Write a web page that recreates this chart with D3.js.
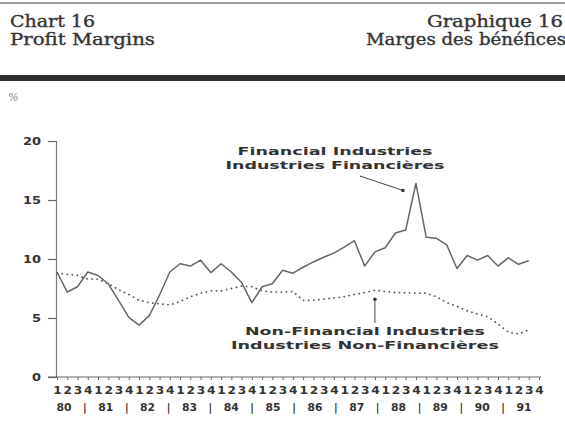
<!DOCTYPE html>
<html>
<head>
<meta charset="utf-8">
<script src="https://cdn.jsdelivr.net/npm/d3@7"></script>
<style>
  body { margin: 0; background: #fff; }
  svg { display: block; }
  .head { font-family: "DejaVu Serif", serif; fill: #333; stroke: #333; stroke-width: 0.35px; font-size: 16px; }
  .lbl { font-family: "DejaVu Sans", sans-serif; font-weight: bold; fill: #333; }
</style>
</head>
<body>
<div id="chart"></div>
<script>
// quarters 1980Q1 .. 1991Q4
var years = ["80", "81", "82", "83", "84", "85", "86", "87", "88", "89", "90", "91"];
var quarterLabels = ["1", "2", "3", "4"];

// Financial industries, % (last quarter not published)
var financial = [8.9, 7.2, 7.65, 8.9, 8.6, 7.9, 6.5, 5.05,
                 4.4, 5.2, 6.95, 8.9, 9.6, 9.4, 9.9, 8.85,
                 9.6, 8.9, 8.0, 6.3, 7.65, 7.9, 9.05, 8.8,
                 9.3, 9.75, 10.15, 10.5, 11.0, 11.55, 9.4, 10.6,
                 10.95, 12.2, 12.45, 16.4, 11.85, 11.75, 11.2, 9.2,
                 10.3, 9.9, 10.3, 9.4, 10.1, 9.55, 9.85, null];

// Non-financial industries, %
var nonFinancial = [8.8, 8.7, 8.6, 8.3, 8.3, 7.9, 7.4, 7.0,
                    6.5, 6.3, 6.2, 6.1, 6.4, 6.8, 7.1, 7.3,
                    7.3, 7.5, 7.7, 7.65, 7.3, 7.2, 7.2, 7.25,
                    6.5, 6.5, 6.6, 6.7, 6.8, 7.0, 7.15, 7.35,
                    7.25, 7.15, 7.15, 7.1, 7.1, 6.8, 6.3, 6.0,
                    5.6, 5.35, 5.1, 4.5, 3.8, 3.65, 4.0, null];

var yTicks = [0, 5, 10, 15, 20];

var w = 565, h = 428;
var svg = d3.select("#chart")
    .append("svg")
    .attr("width", w)
    .attr("height", h);

// header rules
svg.append("rect")
    .attr("x", 0).attr("y", 2)
    .attr("width", w).attr("height", 2)
    .attr("fill", "#9a9a9a");
svg.append("rect")
    .attr("x", 0).attr("y", 75)
    .attr("width", w).attr("height", 6)
    .attr("fill", "#2e2e2e");

// titles (widths forced to match the original typeface)
function head(t, xx, yy, len, anchor) {
  svg.append("text")
      .attr("class", "head")
      .attr("x", xx).attr("y", yy)
      .attr("textLength", len)
      .attr("lengthAdjust", "spacingAndGlyphs")
      .style("text-anchor", anchor)
      .text(t);
}
head("Chart 16", 10, 27, 85, "start");
head("Profit Margins", 10, 45, 145, "start");
head("Graphique 16", 563, 27, 136, "end");
head("Marges des bénéfices", 566, 45, 200, "end");

svg.append("text")
    .attr("x", 8).attr("y", 101)
    .style("font-family", "DejaVu Serif, serif")
    .style("font-style", "italic")
    .style("font-size", "11px")
    .style("fill", "#888")
    .text("%");

var n = financial.length;
var x = d3.scaleLinear().domain([0, n - 1]).range([57, 539]);
var y = d3.scaleLinear().domain([0, 20]).range([377, 141]);

// y axis
var yAxis = d3.axisLeft(y)
    .tickValues(yTicks)
    .tickSize(8)
    .tickPadding(7)
    .tickFormat(d3.format("d"));

var gy = svg.append("g")
    .attr("transform", "translate(56,0)")
    .call(yAxis);
gy.select(".domain").attr("stroke", "#777").attr("stroke-width", 1.2);
gy.selectAll(".tick line").attr("stroke", "#666").attr("stroke-width", 1.2);
gy.selectAll(".tick text")
    .attr("class", "lbl")
    .attr("textLength", function (d) { return String(d).length * 9; })
    .attr("lengthAdjust", "spacingAndGlyphs")
    .style("font-size", "10px");

// x axis
var idx = d3.range(n);
var xAxis = d3.axisBottom(x)
    .tickValues(idx)
    .tickSize(3)
    .tickSizeOuter(0)
    .tickFormat(function (d) { return quarterLabels[d % 4]; });

var gx = svg.append("g")
    .attr("transform", "translate(0,377)")
    .call(xAxis);
gx.select(".domain").attr("stroke", "#666").attr("stroke-width", 1.2)
    .attr("d", "M48,0H541");
gx.selectAll(".tick line").attr("stroke", "#666");
gx.selectAll(".tick text")
    .attr("class", "lbl")
    .attr("y", 10)
    .attr("textLength", 8.5)
    .attr("lengthAdjust", "spacingAndGlyphs")
    .style("font-size", "10px");

// year row
var yx = d3.scaleLinear().domain([0, years.length - 1]).range([64, 524]);
var yearRow = svg.append("g").attr("class", "lbl").style("font-size", "10px");
yearRow.selectAll(".yr")
    .data(years)
    .enter().append("text")
    .attr("x", function (d, i) { return yx(i); })
    .attr("y", 411)
    .attr("textLength", 15)
    .attr("lengthAdjust", "spacingAndGlyphs")
    .style("text-anchor", "middle")
    .text(function (d) { return d; });
yearRow.selectAll(".sep")
    .data(years.slice(1))
    .enter().append("text")
    .attr("x", function (d, i) { return (yx(i) + yx(i + 1)) / 2; })
    .attr("y", 411)
    .style("text-anchor", "middle")
    .text("|");

// series
var line = d3.line()
    .defined(function (d) { return d != null; })
    .x(function (d, i) { return x(i); })
    .y(function (d) { return y(d); })
    .curve(d3.curveLinear);

svg.append("path")
    .datum(nonFinancial)
    .attr("fill", "none")
    .attr("stroke", "#555")
    .attr("stroke-width", 1.8)
    .attr("stroke-linecap", "round")
    .attr("stroke-dasharray", "0.1,5")
    .attr("d", line);

svg.append("path")
    .datum(financial)
    .attr("fill", "none")
    .attr("stroke", "#666")
    .attr("stroke-width", 1.5)
    .attr("stroke-linejoin", "round")
    .attr("d", line);

// annotations
function label(lines, cx, y0, lens) {
  lines.forEach(function (t, i) {
    svg.append("text")
        .attr("class", "lbl")
        .attr("x", cx)
        .attr("y", y0 + i * 14)
        .attr("textLength", lens[i])
        .attr("lengthAdjust", "spacingAndGlyphs")
        .style("text-anchor", "middle")
        .style("font-size", "11px")
        .text(t);
  });
}
label(["Financial Industries", "Industries Financières"], 335, 155, [195, 219]);
label(["Non-Financial Industries", "Industries Non-Financières"], 365, 335, [240, 268]);

// pointer to the financial peak
var pk = 35;
svg.append("line")
    .attr("x1", 360).attr("y1", 176)
    .attr("x2", x(pk) - 13).attr("y2", y(financial[pk]) + 7)
    .attr("stroke", "#444").attr("stroke-width", 1);
svg.append("circle")
    .attr("cx", x(pk) - 13).attr("cy", y(financial[pk]) + 7)
    .attr("r", 1.8).attr("fill", "#333");

// pointer to the non-financial line
var pn = 31;
svg.append("line")
    .attr("x1", x(pn)).attr("y1", y(nonFinancial[pn]) + 9)
    .attr("x2", x(pn)).attr("y2", 323)
    .attr("stroke", "#444").attr("stroke-width", 1);
svg.append("circle")
    .attr("cx", x(pn)).attr("cy", y(nonFinancial[pn]) + 9)
    .attr("r", 1.8).attr("fill", "#333");
</script>
</body>
</html>
